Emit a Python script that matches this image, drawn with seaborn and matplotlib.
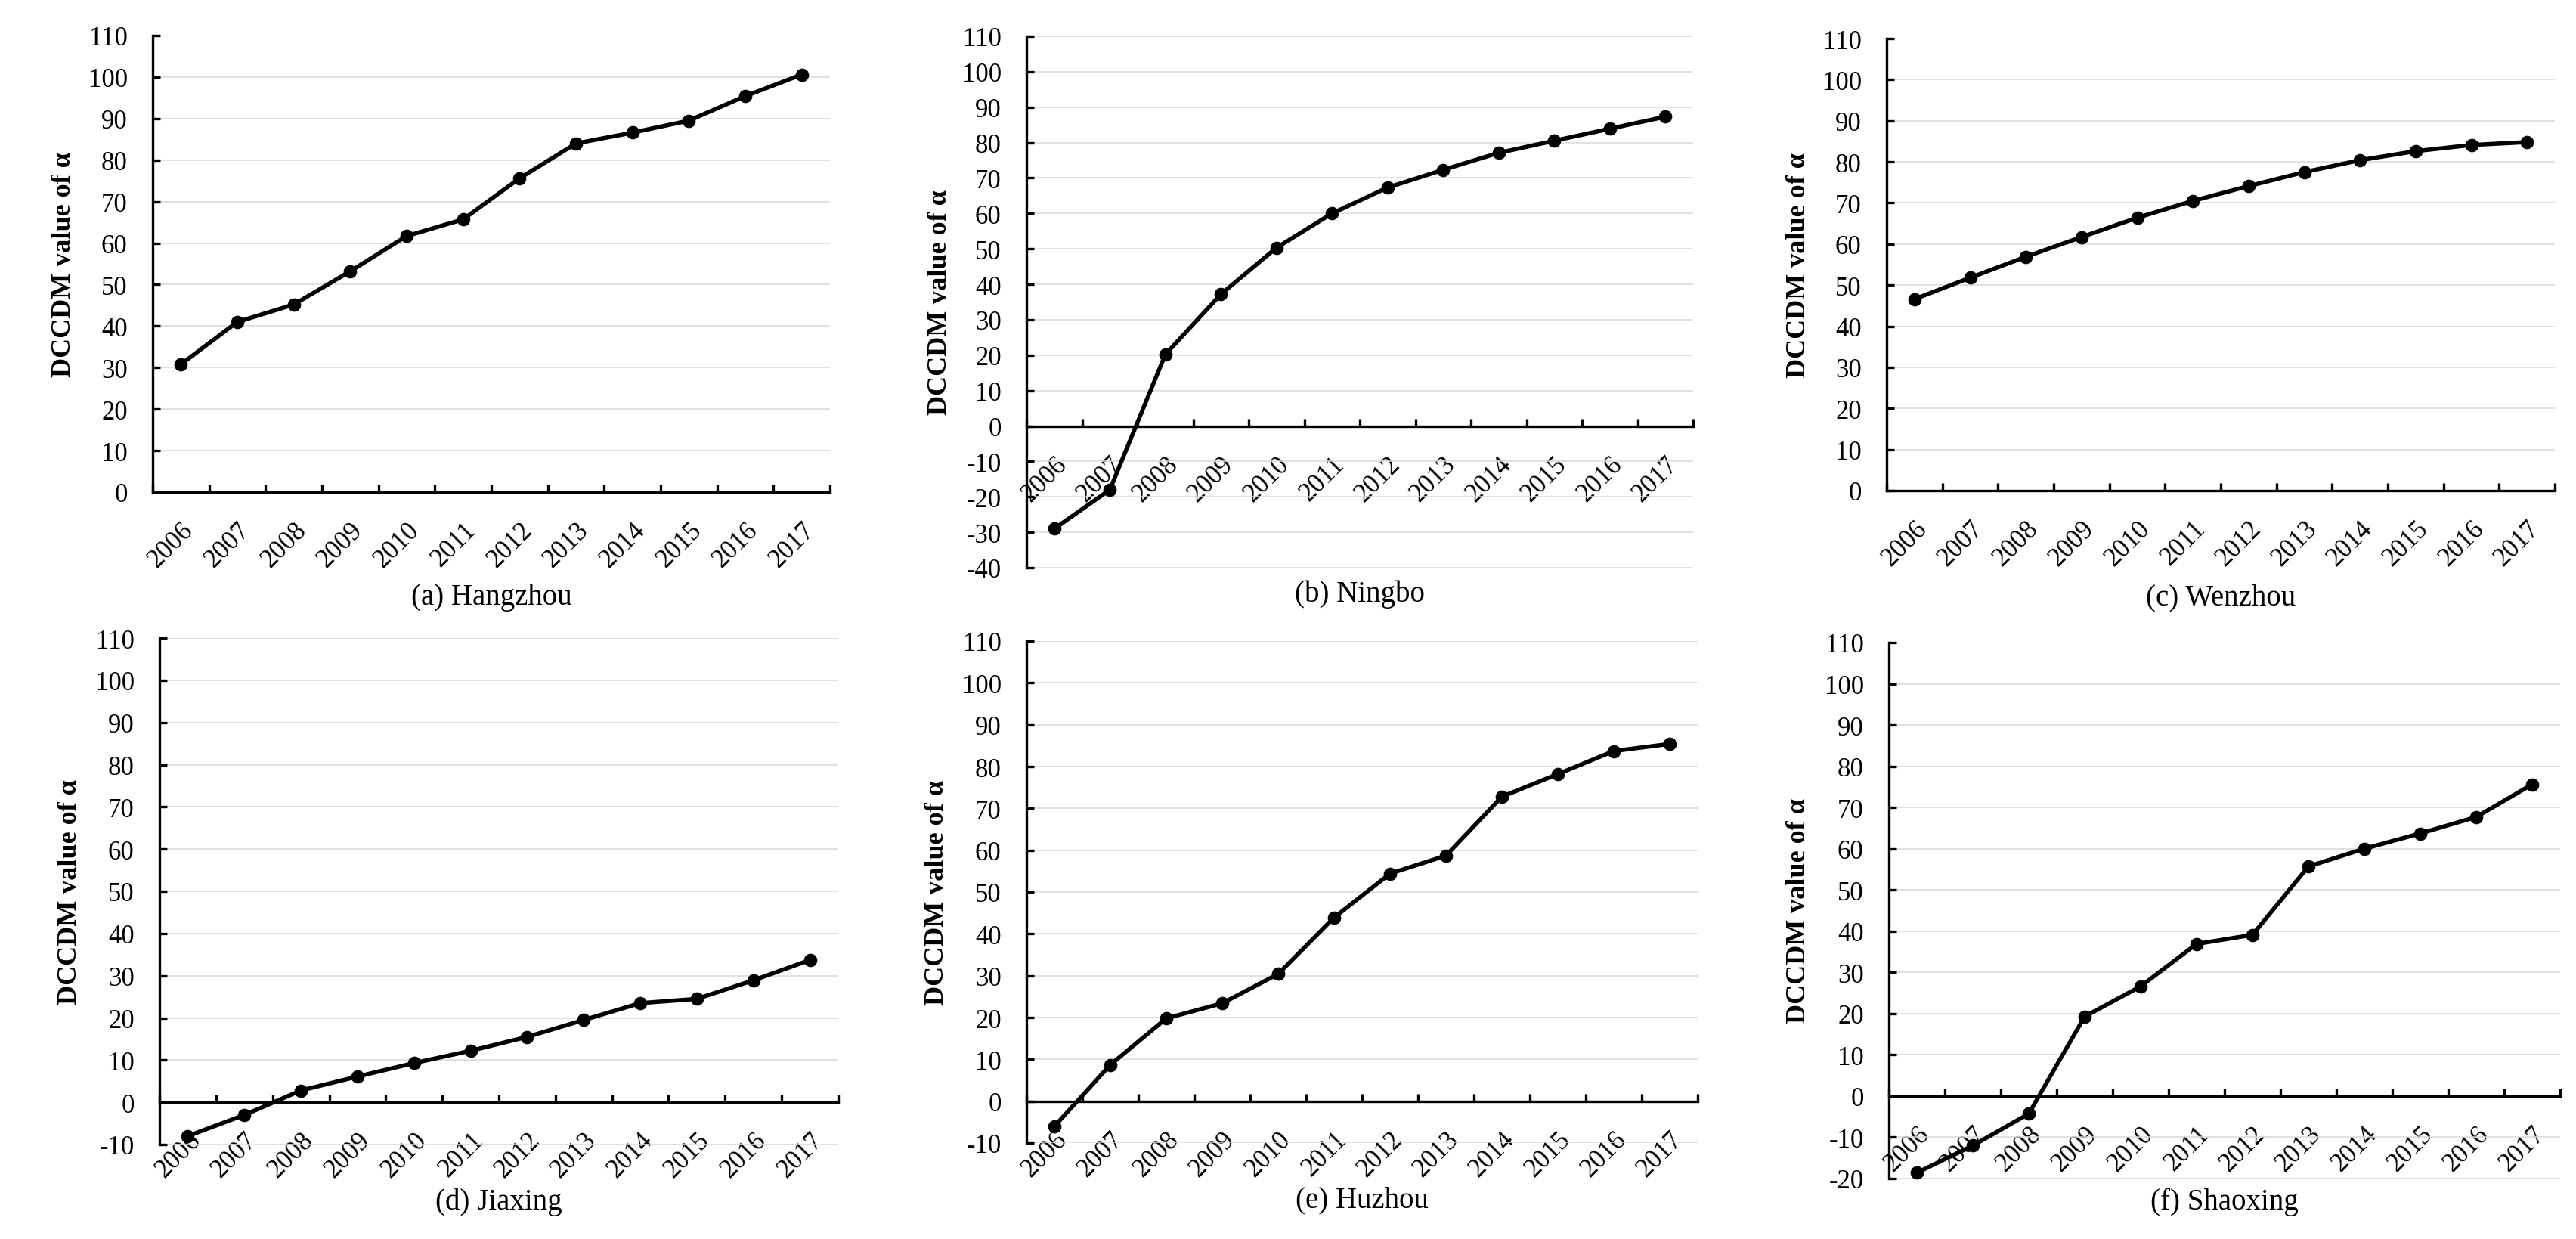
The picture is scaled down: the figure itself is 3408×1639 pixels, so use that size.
import numpy as np
import pandas as pd
import matplotlib
matplotlib.use('Agg')
import matplotlib.pyplot as plt
import seaborn as sns

# data
years = ['2006', '2007', '2008', '2009', '2010', '2011',
         '2012', '2013', '2014', '2015', '2016', '2017']
hangzhou = [30.8, 41.0, 45.2, 53.2, 61.7, 65.7, 75.6, 84.0, 86.6, 89.5, 95.4, 100.6]
ningbo = [-29.0, -18.0, 20.2, 37.2, 50.3, 60.0, 67.3, 72.3, 77.1, 80.5, 83.9, 87.3]
wenzhou = [46.6, 51.8, 56.9, 61.7, 66.4, 70.5, 74.1, 77.5, 80.4, 82.6, 84.1, 84.8]
jiaxing = [-8.0, -3.0, 2.8, 6.1, 9.3, 12.2, 15.5, 19.5, 23.5, 24.5, 28.9, 33.7]
huzhou = [-6.0, 8.7, 19.8, 23.4, 30.4, 43.9, 54.4, 58.7, 72.8, 78.2, 83.7, 85.4]
shaoxing = [-18.6, -12.0, -4.3, 19.3, 26.6, 36.9, 39.1, 55.7, 60.0, 63.7, 67.7, 75.6]

series = [hangzhou, ningbo, wenzhou, jiaxing, huzhou, shaoxing]
captions = ['(a) Hangzhou', '(b) Ningbo', '(c) Wenzhou',
            '(d) Jiaxing', '(e) Huzhou', '(f) Shaoxing']
y_mins = [0, -40, 0, -10, -10, -20]
y_label = 'DCCDM value of \u03b1'

sns.set_theme(style='white')
plt.rcParams['font.family'] = ['Liberation Serif', 'DejaVu Serif']
plt.rcParams['axes.unicode_minus'] = False

W, H = 3408, 1640
fig = plt.figure(figsize=(W / 100, H / 100), dpi=100)

# panel boxes in pixels: left, right, top, bottom
boxes = [(202, 1098, 48, 652), (1358, 2240, 49, 752), (2496, 3380, 52, 650),
         (211, 1109, 845, 1515), (1358, 2246, 849, 1513), (2499, 3387, 851, 1560)]
label_x = [85, 1243, 2380, 93, 1239, 2379]
caption_y = [791, 786, 791, 1590, 1588, 1590]

for i, vals in enumerate(series):
    l, r, t, b = boxes[i]
    ax = fig.add_axes([l / W, 1 - b / H, (r - l) / W, (b - t) / H])
    df = pd.DataFrame({'pos': range(len(years)), 'value': vals})
    sns.lineplot(data=df, x='pos', y='value', ax=ax, color='black',
                 linewidth=4.0, marker='o', markersize=12,
                 markeredgecolor='black', markerfacecolor='black', clip_on=False)

    ax.set_xlim(-0.5, len(years) - 0.5)
    ax.set_ylim(y_mins[i], 110)
    ax.set_yticks(np.arange(y_mins[i], 111, 10))
    ax.yaxis.grid(True, color='#d9d9d9', linewidth=1.1)
    ax.xaxis.grid(False)
    ax.set_axisbelow(True)

    ax.spines['top'].set_visible(False)
    ax.spines['right'].set_visible(False)
    ax.spines['bottom'].set_position(('data', 0))
    for s in ['left', 'bottom']:
        ax.spines[s].set_linewidth(2.4)
        ax.spines[s].set_color('black')

    ax.set_xticks(range(len(years)))
    ax.set_xticklabels(years, rotation=45, ha='right', va='top',
                       rotation_mode='anchor')
    ax.set_xticks(np.arange(-0.5, len(years), 1), minor=True)
    ax.tick_params(axis='x', which='major', bottom=True, length=0, pad=24,
                   labelsize=25, labelcolor='black')
    ax.tick_params(axis='x', which='minor', bottom=True, direction='in',
                   length=7, width=2.4, color='black')
    ax.tick_params(axis='y', left=True, direction='in', length=7, width=2.4,
                   color='black', pad=24, labelsize=25, labelcolor='black')
    ax.set_xlabel('')
    ax.set_ylabel('')

    fig.text(label_x[i] / W, 1 - (t + b) / 2 / H, y_label, rotation=90,
             ha='center', va='center', fontsize=26, fontweight='bold', color='black')
    fig.text((l + r) / 2 / W, 1 - caption_y[i] / H, captions[i],
             ha='center', va='center', fontsize=28, color='black')

fig.savefig('out.png', dpi=100)
